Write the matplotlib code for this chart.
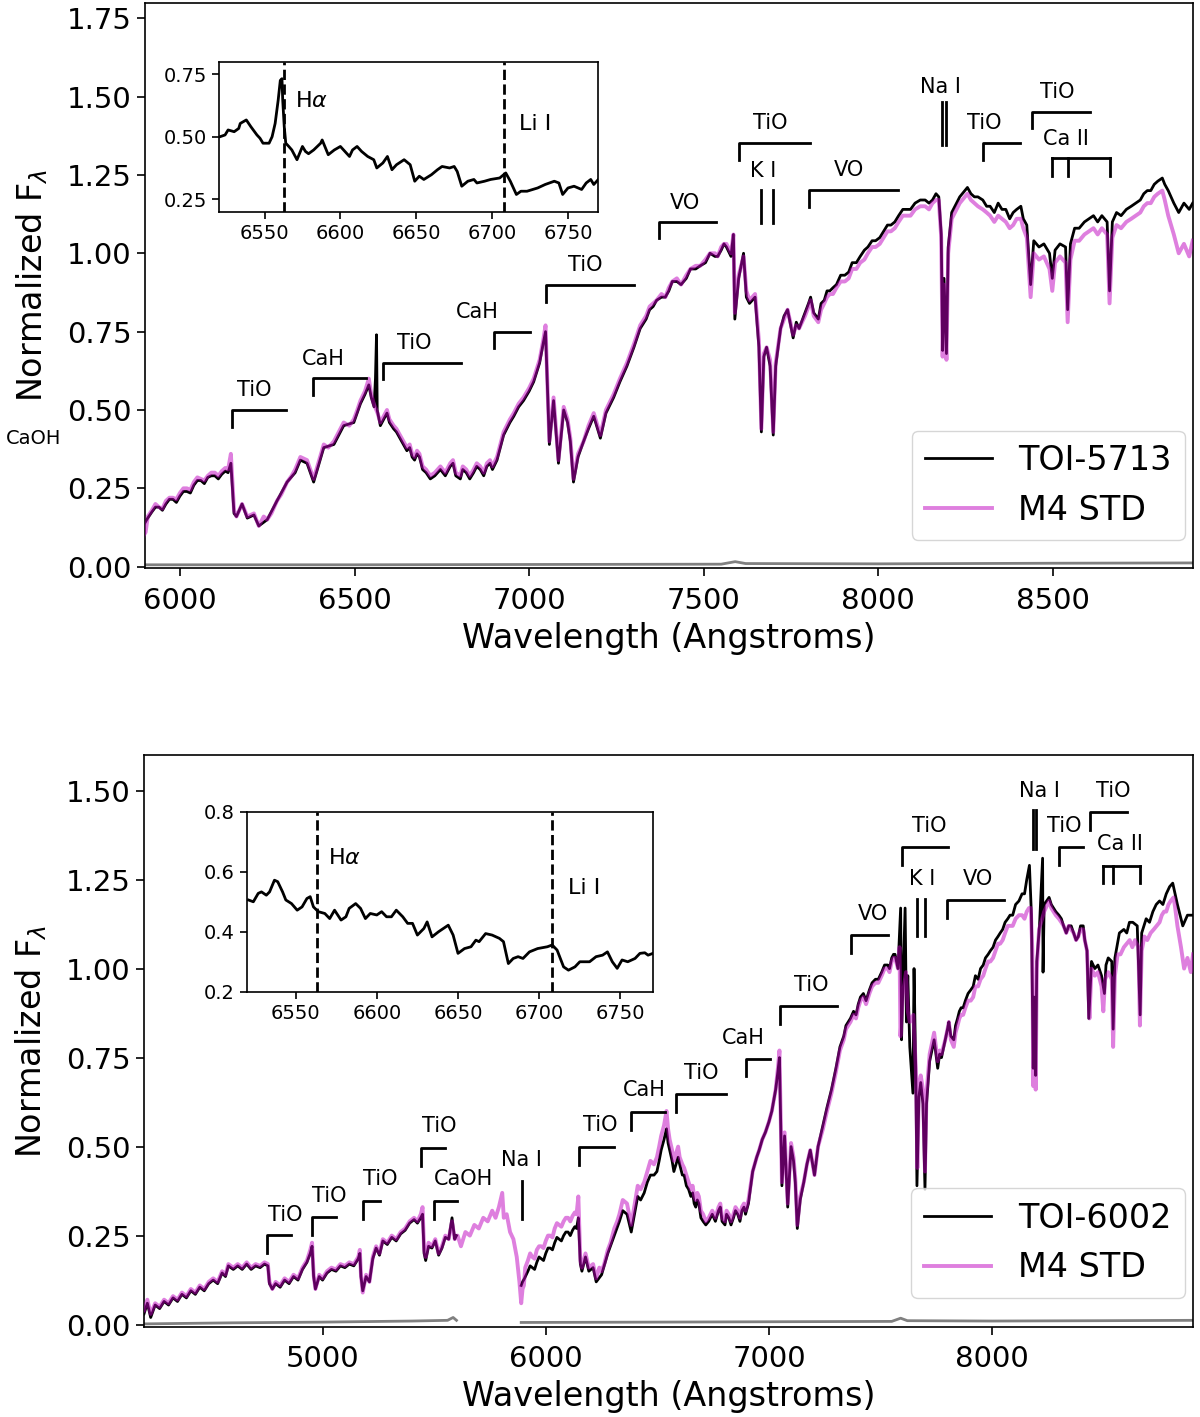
import numpy as np
import matplotlib
matplotlib.use("Agg")
import matplotlib.pyplot as plt

nan = np.nan

# ---- spectra: (wavelength [A], normalized flux) ----
m4_std = [
    (4200, 0.04), (4215, 0.07), (4230, 0.03), (4250, 0.06), (4270, 0.05), (4290, 0.07), (4310, 0.06),
    (4330, 0.08), (4350, 0.07), (4370, 0.09), (4390, 0.08), (4410, 0.10), (4430, 0.09), (4450, 0.11),
    (4470, 0.10), (4490, 0.12), (4510, 0.13), (4530, 0.12), (4550, 0.15), (4565, 0.14), (4578, 0.17),
    (4600, 0.16), (4620, 0.17), (4640, 0.16), (4660, 0.175), (4680, 0.16), (4700, 0.17), (4720, 0.165),
    (4740, 0.175), (4755, 0.17), (4762, 0.12), (4775, 0.10), (4790, 0.12), (4810, 0.11), (4830, 0.13),
    (4850, 0.12), (4870, 0.14), (4890, 0.13), (4910, 0.16), (4930, 0.18), (4945, 0.21), (4953, 0.23),
    (4960, 0.14), (4968, 0.10), (4985, 0.14), (5000, 0.13), (5020, 0.15), (5040, 0.16), (5060, 0.155),
    (5080, 0.17), (5100, 0.165), (5120, 0.175), (5140, 0.17), (5160, 0.19), (5167, 0.21), (5172, 0.14),
    (5180, 0.09), (5195, 0.14), (5210, 0.12), (5225, 0.19), (5240, 0.22), (5255, 0.20), (5270, 0.24),
    (5290, 0.23), (5310, 0.25), (5330, 0.24), (5350, 0.26), (5370, 0.27), (5390, 0.29), (5410, 0.30),
    (5425, 0.29), (5440, 0.31), (5448, 0.33), (5455, 0.21), (5462, 0.19), (5475, 0.23), (5490, 0.22),
    (5505, 0.24), (5520, 0.20), (5535, 0.22), (5550, 0.25), (5565, 0.24), (5580, 0.29), (5592, 0.24),
    (5605, 0.25), (5620, 0.22), (5640, 0.26), (5660, 0.25), (5680, 0.28), (5700, 0.27), (5720, 0.30),
    (5740, 0.29), (5760, 0.32), (5775, 0.30), (5790, 0.33), (5805, 0.37), (5812, 0.30), (5825, 0.31),
    (5840, 0.26), (5855, 0.24), (5870, 0.19), (5882, 0.12), (5890, 0.06), (5896, 0.10), (5902, 0.11),
    (5908, 0.16), (5920, 0.18), (5940, 0.19), (5960, 0.21), (5980, 0.22), (6000, 0.235), (6020, 0.25),
    (6040, 0.27), (6060, 0.28), (6080, 0.29), (6100, 0.30), (6120, 0.305), (6138, 0.31), (6146, 0.36),
    (6155, 0.18), (6162, 0.16), (6178, 0.20), (6193, 0.16), (6212, 0.17), (6226, 0.13), (6250, 0.15),
    (6278, 0.21), (6307, 0.27), (6330, 0.31), (6345, 0.35), (6364, 0.34), (6383, 0.28), (6412, 0.39),
    (6441, 0.40), (6469, 0.46), (6498, 0.47), (6517, 0.53), (6530, 0.56), (6541, 0.60), (6548, 0.55),
    (6555, 0.52), (6566, 0.49), (6574, 0.46), (6593, 0.50), (6612, 0.45), (6630, 0.42), (6650, 0.38),
    (6665, 0.36), (6679, 0.37), (6695, 0.32), (6717, 0.29), (6730, 0.30), (6746, 0.32), (6774, 0.33),
    (6790, 0.30), (6803, 0.29), (6820, 0.31), (6841, 0.31), (6860, 0.32), (6879, 0.33), (6895, 0.32),
    (6908, 0.35), (6927, 0.43), (6945, 0.47), (6956, 0.49), (6970, 0.52), (6984, 0.54), (7000, 0.57),
    (7013, 0.60), (7030, 0.66), (7040, 0.72), (7047, 0.77), (7053, 0.56), (7058, 0.40), (7070, 0.54),
    (7084, 0.34), (7099, 0.51), (7110, 0.47), (7118, 0.41), (7127, 0.28), (7140, 0.36), (7156, 0.40),
    (7170, 0.45), (7185, 0.49), (7204, 0.42), (7220, 0.50), (7242, 0.55), (7260, 0.60), (7280, 0.65),
    (7300, 0.71), (7318, 0.77), (7335, 0.80), (7355, 0.84), (7379, 0.87), (7400, 0.89), (7423, 0.92),
    (7450, 0.93), (7477, 0.96), (7505, 0.98), (7532, 1.00), (7550, 1.02), (7565, 1.03), (7578, 1.00),
    (7585, 1.06), (7589, 0.81), (7600, 0.93), (7614, 0.99), (7622, 0.88), (7631, 0.85), (7647, 0.87),
    (7658, 0.72), (7665, 0.44), (7672, 0.68), (7680, 0.70), (7690, 0.66), (7699, 0.43), (7706, 0.65),
    (7720, 0.76), (7740, 0.82), (7756, 0.74), (7773, 0.76), (7790, 0.80), (7806, 0.85), (7828, 0.78),
    (7845, 0.84), (7861, 0.87), (7880, 0.89), (7904, 0.91), (7925, 0.95), (7948, 0.97), (7970, 1.00),
    (7992, 1.02), (8015, 1.05), (8036, 1.07), (8058, 1.10), (8080, 1.12), (8105, 1.14), (8134, 1.15),
    (8155, 1.16), (8173, 1.17), (8180, 1.05), (8184, 0.67), (8188, 0.90), (8195, 0.66), (8200, 1.00),
    (8210, 1.11), (8233, 1.16), (8255, 1.19), (8275, 1.16), (8299, 1.14), (8320, 1.12), (8343, 1.12),
    (8365, 1.10), (8386, 1.09), (8408, 1.11), (8425, 1.05), (8436, 0.86), (8445, 1.00), (8460, 0.98),
    (8474, 0.99), (8490, 0.95), (8498, 0.88), (8506, 0.97), (8520, 0.99), (8536, 0.97), (8542, 0.78),
    (8550, 0.98), (8562, 1.04), (8590, 1.06), (8616, 1.08), (8640, 1.08), (8655, 1.06), (8662, 0.84),
    (8670, 1.05), (8682, 1.09), (8710, 1.10), (8737, 1.12), (8770, 1.16), (8790, 1.18), (8813, 1.20),
    (8830, 1.12), (8846, 1.06), (8860, 1.00), (8875, 1.03), (8890, 0.99), (8900, 1.04),
    # small-scale wiggles read between the points above
    (5930, 0.20), (5950, 0.185), (5970, 0.22), (5990, 0.215), (6010, 0.25), (6030, 0.245), (6050, 0.285),
    (6070, 0.275), (6090, 0.30), (6110, 0.29), (6130, 0.315), (6240, 0.16), (6262, 0.17), (6290, 0.23),
    (6320, 0.29), (6425, 0.38), (6455, 0.43), (6485, 0.45), (6508, 0.50), (6600, 0.47), (6620, 0.44),
    (6640, 0.40), (6658, 0.39), (6672, 0.35), (6686, 0.36), (6705, 0.31), (6760, 0.30), (6782, 0.34),
    (6810, 0.32), (6830, 0.29), (6850, 0.33), (6870, 0.30), (6888, 0.34), (7345, 0.83), (7365, 0.85),
    (7390, 0.86), (7410, 0.91), (7435, 0.90), (7462, 0.95), (7490, 0.96), (7518, 1.00), (7540, 0.99),
    (7558, 1.03), (7730, 0.79), (7765, 0.77), (7800, 0.83), (7815, 0.80), (7836, 0.82), (7853, 0.86),
    (7870, 0.87), (7892, 0.91), (7915, 0.92), (7937, 0.95), (7960, 0.98), (7982, 1.02), (8004, 1.03),
    (8026, 1.07), (8047, 1.08), (8070, 1.12), (8092, 1.12), (8120, 1.15), (8145, 1.14), (8165, 1.17),
    (8265, 1.17), (8285, 1.15), (8310, 1.13), (8332, 1.10), (8354, 1.11), (8376, 1.08), (8396, 1.11),
    (8415, 1.08), (8575, 1.04), (8603, 1.07), (8628, 1.06), (8695, 1.08), (8724, 1.11), (8750, 1.13),
    (8760, 1.15), (8780, 1.16), (8800, 1.19), (8820, 1.17),
]

toi5713 = [
    (5900, 0.14), (5905, 0.15), (5920, 0.175), (5940, 0.19), (5960, 0.20), (5980, 0.215), (6000, 0.225),
    (6020, 0.24), (6040, 0.26), (6060, 0.275), (6080, 0.285), (6100, 0.29), (6120, 0.295), (6138, 0.30),
    (6146, 0.33), (6155, 0.17), (6162, 0.16), (6178, 0.20), (6193, 0.155), (6212, 0.165), (6226, 0.13),
    (6250, 0.15), (6278, 0.21), (6307, 0.27), (6330, 0.30), (6345, 0.34), (6364, 0.33), (6383, 0.27),
    (6412, 0.38), (6441, 0.39), (6469, 0.45), (6498, 0.46), (6517, 0.52), (6530, 0.55), (6541, 0.58),
    (6548, 0.54), (6556, 0.51), (6560, 0.60), (6563, 0.74), (6565, 0.50), (6574, 0.45), (6593, 0.49),
    (6612, 0.44), (6630, 0.41), (6650, 0.37), (6665, 0.35), (6679, 0.36), (6695, 0.31), (6717, 0.28),
    (6730, 0.29), (6746, 0.31), (6774, 0.32), (6790, 0.29), (6803, 0.28), (6820, 0.30), (6841, 0.30),
    (6860, 0.31), (6879, 0.32), (6895, 0.31), (6908, 0.34), (6927, 0.42), (6945, 0.46), (6956, 0.48),
    (6970, 0.51), (6984, 0.53), (7000, 0.56), (7013, 0.59), (7030, 0.65), (7040, 0.71), (7047, 0.75),
    (7053, 0.55), (7058, 0.39), (7070, 0.53), (7084, 0.33), (7099, 0.50), (7110, 0.46), (7118, 0.40),
    (7127, 0.27), (7140, 0.35), (7156, 0.40), (7170, 0.44), (7185, 0.48), (7204, 0.41), (7220, 0.49),
    (7242, 0.54), (7260, 0.59), (7280, 0.64), (7300, 0.70), (7318, 0.76), (7335, 0.79), (7355, 0.83),
    (7379, 0.86), (7400, 0.88), (7423, 0.91), (7450, 0.92), (7477, 0.95), (7505, 0.97), (7532, 0.99),
    (7550, 1.01), (7565, 1.02), (7578, 0.99), (7585, 1.06), (7589, 0.79), (7600, 0.92), (7614, 1.00),
    (7622, 0.86), (7631, 0.84), (7647, 0.86), (7658, 0.70), (7665, 0.43), (7672, 0.67), (7680, 0.70),
    (7690, 0.64), (7699, 0.42), (7706, 0.64), (7720, 0.76), (7740, 0.82), (7756, 0.73), (7773, 0.76),
    (7790, 0.81), (7806, 0.86), (7828, 0.79), (7845, 0.85), (7861, 0.88), (7880, 0.90), (7904, 0.93),
    (7925, 0.97), (7948, 0.99), (7970, 1.02), (7992, 1.04), (8015, 1.07), (8036, 1.09), (8058, 1.12),
    (8080, 1.14), (8105, 1.16), (8134, 1.17), (8155, 1.17), (8173, 1.18), (8180, 1.06), (8184, 0.69),
    (8188, 0.92), (8195, 0.68), (8200, 1.02), (8210, 1.13), (8233, 1.18), (8255, 1.21), (8275, 1.18),
    (8299, 1.17), (8320, 1.15), (8343, 1.16), (8365, 1.14), (8386, 1.13), (8408, 1.15), (8425, 1.09),
    (8436, 0.90), (8445, 1.04), (8460, 1.02), (8474, 1.03), (8490, 1.00), (8498, 0.92), (8506, 1.01),
    (8520, 1.03), (8536, 1.02), (8542, 0.82), (8550, 1.03), (8562, 1.08), (8590, 1.10), (8616, 1.12),
    (8640, 1.12), (8655, 1.10), (8662, 0.88), (8670, 1.10), (8682, 1.13), (8710, 1.14), (8737, 1.16),
    (8770, 1.20), (8790, 1.22), (8813, 1.24), (8830, 1.20), (8846, 1.16), (8860, 1.13), (8875, 1.16),
    (8890, 1.14), (8900, 1.16),
    # small-scale wiggles
    (5930, 0.19), (5950, 0.18), (5970, 0.215), (5990, 0.205), (6010, 0.24), (6030, 0.235), (6050, 0.275),
    (6070, 0.265), (6090, 0.29), (6110, 0.28), (6130, 0.305), (6600, 0.46), (6620, 0.43), (6640, 0.39),
    (6658, 0.38), (6672, 0.34), (6686, 0.35), (6705, 0.30), (6760, 0.29), (6782, 0.33), (6810, 0.31),
    (6830, 0.28), (6850, 0.32), (6870, 0.29), (6888, 0.33), (7345, 0.82), (7365, 0.85), (7390, 0.86),
    (7410, 0.91), (7435, 0.90), (7462, 0.95), (7490, 0.96), (7518, 1.00), (7540, 0.99), (7558, 1.03),
    (7730, 0.80), (7765, 0.78), (7800, 0.84), (7815, 0.81), (7836, 0.84), (7853, 0.88), (7870, 0.89),
    (7892, 0.93), (7915, 0.94), (7937, 0.97), (7960, 1.01), (7982, 1.04), (8004, 1.05), (8026, 1.09),
    (8047, 1.10), (8070, 1.14), (8092, 1.14), (8120, 1.17), (8145, 1.16), (8165, 1.19), (8265, 1.19),
    (8285, 1.18), (8310, 1.15), (8332, 1.13), (8354, 1.14), (8376, 1.11), (8396, 1.14), (8415, 1.11),
    (8575, 1.08), (8603, 1.11), (8628, 1.10), (8695, 1.12), (8724, 1.15), (8750, 1.17), (8760, 1.19),
    (8780, 1.20), (8800, 1.23), (8820, 1.22),
]

toi6002 = [
    (4200, 0.03), (4215, 0.06), (4230, 0.02), (4250, 0.055), (4270, 0.045), (4290, 0.065), (4310, 0.055),
    (4330, 0.075), (4350, 0.065), (4370, 0.085), (4390, 0.075), (4410, 0.095), (4430, 0.085), (4450, 0.105),
    (4470, 0.095), (4490, 0.115), (4510, 0.125), (4530, 0.115), (4550, 0.145), (4565, 0.135), (4578, 0.165),
    (4600, 0.155), (4620, 0.165), (4640, 0.155), (4660, 0.17), (4680, 0.155), (4700, 0.165), (4720, 0.16),
    (4740, 0.17), (4755, 0.165), (4762, 0.115), (4775, 0.10), (4790, 0.115), (4810, 0.105), (4830, 0.125),
    (4850, 0.115), (4870, 0.135), (4890, 0.125), (4910, 0.155), (4930, 0.175), (4945, 0.20), (4953, 0.22),
    (4960, 0.135), (4968, 0.10), (4985, 0.135), (5000, 0.125), (5020, 0.145), (5040, 0.155), (5060, 0.15),
    (5080, 0.165), (5100, 0.16), (5120, 0.17), (5140, 0.165), (5160, 0.185), (5167, 0.20), (5172, 0.135),
    (5180, 0.095), (5195, 0.135), (5210, 0.12), (5225, 0.185), (5240, 0.215), (5255, 0.195), (5270, 0.235),
    (5290, 0.225), (5310, 0.245), (5330, 0.235), (5350, 0.255), (5370, 0.265), (5390, 0.285), (5410, 0.295),
    (5425, 0.285), (5440, 0.30), (5448, 0.31), (5455, 0.20), (5462, 0.18), (5475, 0.22), (5490, 0.215),
    (5505, 0.235), (5520, 0.195), (5535, 0.215), (5550, 0.245), (5565, 0.24), (5580, 0.30), (5592, 0.24),
    (5600, 0.25), (5601, nan), (5889, nan), (5890, 0.11), (5896, 0.12), (5905, 0.13), (5920, 0.15),
    (5940, 0.16), (5960, 0.175), (5980, 0.185), (6000, 0.20), (6020, 0.215), (6040, 0.23), (6060, 0.24),
    (6080, 0.25), (6100, 0.26), (6120, 0.265), (6138, 0.27), (6146, 0.30), (6155, 0.17), (6162, 0.15),
    (6178, 0.19), (6193, 0.15), (6212, 0.16), (6226, 0.12), (6250, 0.14), (6278, 0.20), (6307, 0.25),
    (6330, 0.29), (6345, 0.32), (6364, 0.31), (6383, 0.26), (6412, 0.36), (6441, 0.37), (6469, 0.42),
    (6498, 0.43), (6517, 0.49), (6530, 0.52), (6541, 0.55), (6548, 0.51), (6555, 0.49), (6566, 0.46),
    (6574, 0.43), (6593, 0.47), (6612, 0.42), (6630, 0.39), (6650, 0.36), (6665, 0.34), (6679, 0.35),
    (6695, 0.30), (6717, 0.28), (6730, 0.29), (6746, 0.31), (6774, 0.32), (6790, 0.29), (6803, 0.28),
    (6820, 0.30), (6841, 0.30), (6860, 0.31), (6879, 0.32), (6895, 0.31), (6908, 0.34), (6927, 0.43),
    (6945, 0.47), (6956, 0.49), (6970, 0.52), (6984, 0.54), (7000, 0.57), (7013, 0.60), (7030, 0.66),
    (7040, 0.71), (7047, 0.75), (7053, 0.55), (7058, 0.39), (7070, 0.53), (7084, 0.33), (7099, 0.50),
    (7110, 0.46), (7118, 0.40), (7127, 0.27), (7140, 0.35), (7156, 0.40), (7170, 0.45), (7185, 0.49),
    (7204, 0.42), (7220, 0.50), (7242, 0.56), (7260, 0.61), (7280, 0.66), (7300, 0.72), (7318, 0.78),
    (7335, 0.81), (7355, 0.85), (7379, 0.88), (7400, 0.90), (7423, 0.93), (7450, 0.94), (7477, 0.97),
    (7505, 0.99), (7532, 1.01), (7550, 1.03), (7565, 1.04), (7578, 1.00), (7590, 1.17), (7594, 0.80),
    (7600, 0.95), (7610, 1.17), (7616, 0.85), (7622, 0.98), (7631, 0.78), (7645, 0.65), (7650, 1.00),
    (7658, 0.70), (7663, 0.39), (7672, 0.64), (7680, 0.68), (7690, 0.62), (7699, 0.38), (7706, 0.62),
    (7720, 0.74), (7740, 0.80), (7756, 0.72), (7773, 0.75), (7790, 0.80), (7806, 0.85), (7828, 0.80),
    (7845, 0.86), (7861, 0.89), (7880, 0.91), (7904, 0.94), (7925, 0.98), (7948, 1.00), (7970, 1.03),
    (7992, 1.05), (8015, 1.08), (8036, 1.10), (8058, 1.13), (8080, 1.15), (8105, 1.18), (8134, 1.21),
    (8155, 1.25), (8167, 1.29), (8176, 1.15), (8184, 0.72), (8188, 0.92), (8195, 0.70), (8200, 1.02),
    (8212, 1.12), (8226, 1.31), (8228, 0.99), (8233, 1.18), (8255, 1.20), (8275, 1.17), (8299, 1.15),
    (8320, 1.12), (8343, 1.12), (8365, 1.10), (8386, 1.09), (8408, 1.12), (8425, 1.05), (8433, 0.86),
    (8445, 1.02), (8460, 1.00), (8474, 1.01), (8490, 0.98), (8503, 0.93), (8510, 1.01), (8520, 1.03),
    (8536, 1.02), (8542, 0.83), (8550, 1.03), (8570, 1.10), (8590, 1.11), (8630, 1.13), (8650, 1.12),
    (8663, 0.87), (8670, 1.10), (8690, 1.14), (8720, 1.16), (8750, 1.19), (8780, 1.21), (8809, 1.24),
    (8830, 1.18), (8854, 1.12), (8875, 1.15), (8900, 1.15),
    # small-scale wiggles
    (5930, 0.165), (5950, 0.155), (5970, 0.19), (5990, 0.18), (6010, 0.215), (6030, 0.21), (6050, 0.245),
    (6070, 0.235), (6090, 0.26), (6110, 0.25), (6130, 0.275), (6425, 0.35), (6455, 0.40), (6485, 0.42),
    (6508, 0.46), (6600, 0.45), (6620, 0.42), (6640, 0.38), (6658, 0.37), (6672, 0.33), (6686, 0.34),
    (6705, 0.29), (6760, 0.29), (6782, 0.33), (6810, 0.31), (6830, 0.28), (6850, 0.32), (6870, 0.29),
    (6888, 0.33), (7345, 0.84), (7365, 0.86), (7390, 0.87), (7410, 0.92), (7435, 0.91), (7462, 0.96),
    (7490, 0.97), (7518, 1.01), (7540, 1.00), (7558, 1.04), (7730, 0.77), (7765, 0.76), (7800, 0.83),
    (7815, 0.81), (7836, 0.84), (7853, 0.88), (7870, 0.89), (7892, 0.93), (7915, 0.95), (7937, 0.97),
    (7960, 1.01), (7982, 1.04), (8004, 1.06), (8026, 1.09), (8047, 1.11), (8070, 1.14), (8092, 1.15),
    (8120, 1.19), (8145, 1.21), (8265, 1.18), (8285, 1.16), (8310, 1.14), (8332, 1.10), (8354, 1.12),
    (8376, 1.08), (8396, 1.12), (8415, 1.08), (8603, 1.10), (8615, 1.13), (8705, 1.13), (8735, 1.18),
    (8765, 1.18), (8795, 1.23),
]

err_top = [(5900, 0.006), (6500, 0.006), (7000, 0.007), (7550, 0.008), (7590, 0.016), (7620, 0.010),
           (8000, 0.009), (8500, 0.011), (8900, 0.012)]
err_bot = [(4200, 0.002), (4600, 0.005), (5000, 0.007), (5400, 0.010), (5560, 0.012), (5585, 0.020),
           (5600, 0.012), (5601, nan), (5889, nan), (5890, 0.006), (6500, 0.007), (7000, 0.008),
           (7550, 0.009), (7590, 0.018), (7620, 0.011), (8000, 0.010), (8500, 0.011), (8900, 0.012)]

# ---- inset spectra around H-alpha / Li I ----
inset_5713 = [
    (6520.7, 0.501), (6524, 0.508), (6526, 0.528), (6530, 0.521), (6533, 0.534), (6534, 0.554), (6536, 0.561),
    (6538, 0.568), (6541, 0.541), (6545, 0.508), (6547, 0.495), (6549, 0.475), (6553, 0.475), (6555, 0.501),
    (6557, 0.554), (6559, 0.647), (6560.4, 0.726), (6561.5, 0.733), (6562, 0.647), (6563, 0.541),
    (6564, 0.475), (6566, 0.462), (6568, 0.448), (6571.4, 0.409), (6575, 0.462), (6577, 0.442), (6579, 0.433),
    (6582.4, 0.448), (6587, 0.475), (6588, 0.488), (6592, 0.429), (6596, 0.448), (6600, 0.462), (6603, 0.442),
    (6606, 0.422), (6608, 0.448), (6611, 0.462), (6614, 0.442), (6618, 0.422), (6622, 0.409), (6624, 0.376),
    (6628, 0.396), (6631, 0.422), (6634, 0.369), (6637, 0.389), (6642, 0.409), (6646, 0.389), (6649, 0.323),
    (6652, 0.343), (6655, 0.330), (6660, 0.349), (6664, 0.369), (6667, 0.382), (6672, 0.376), (6675, 0.382),
    (6677, 0.362), (6680, 0.303), (6684, 0.323), (6688, 0.330), (6690, 0.316), (6695, 0.323), (6699, 0.330),
    (6705, 0.336), (6709, 0.356), (6712, 0.323), (6716, 0.270), (6719, 0.283), (6723, 0.283), (6730, 0.296),
    (6735, 0.310), (6741, 0.323), (6744, 0.316), (6746.5, 0.270), (6750, 0.296), (6754, 0.303), (6759, 0.290),
    (6762, 0.316), (6765, 0.330), (6767, 0.310), (6770, 0.330),
]

inset_6002 = [
    (6521, 0.506), (6524, 0.500), (6527, 0.528), (6529, 0.533), (6532, 0.522), (6534, 0.533), (6537, 0.572),
    (6539, 0.567), (6542, 0.533), (6544, 0.506), (6547.5, 0.494), (6551, 0.472), (6554, 0.483), (6557, 0.511),
    (6559, 0.517), (6561, 0.483), (6564, 0.467), (6568, 0.461), (6571, 0.444), (6574, 0.472), (6578, 0.439),
    (6581, 0.450), (6583, 0.478), (6587, 0.494), (6590, 0.478), (6593, 0.444), (6596, 0.461), (6600, 0.456),
    (6603, 0.467), (6606, 0.450), (6609, 0.450), (6612, 0.472), (6616, 0.450), (6619, 0.428), (6622, 0.428),
    (6625, 0.389), (6629, 0.411), (6631, 0.433), (6634, 0.383), (6638, 0.400), (6641, 0.411), (6644, 0.422),
    (6647, 0.389), (6650, 0.328), (6654, 0.344), (6658, 0.350), (6661, 0.372), (6663, 0.367), (6667, 0.394),
    (6671, 0.389), (6675.5, 0.378), (6678, 0.367), (6681, 0.294), (6684, 0.311), (6687, 0.317), (6690, 0.311),
    (6694, 0.333), (6699, 0.344), (6705, 0.350), (6708, 0.356), (6711, 0.339), (6715, 0.283), (6718, 0.272),
    (6722, 0.283), (6725, 0.300), (6731, 0.300), (6735, 0.317), (6739, 0.322), (6742, 0.333), (6745, 0.300),
    (6748, 0.278), (6751, 0.306), (6754.5, 0.300), (6759, 0.311), (6762, 0.328), (6765, 0.330), (6767, 0.322),
    (6770, 0.328),
]

halpha_wave = 6563
li_wave = 6708

# ---- molecular band brackets: (start, end, height, label, label x, label y) ----
top_bands = [
    (6150, 6304, 0.500, 'TiO', 6212, 0.564),
    (6381, 6534, 0.601, 'CaH', 6412, 0.662),
    (6581, 6805, 0.651, 'TiO', 6670, 0.713),
    (6900, 7003, 0.750, 'CaH', 6851, 0.812),
    (7049, 7301, 0.899, 'TiO', 7161, 0.963),
    (7371, 7534, 1.101, 'VO', 7445, 1.162),
    (7601, 7804, 1.351, 'TiO', 7691, 1.415),
    (7802, 8055, 1.202, 'VO', 7916, 1.266),
    (8301, 8405, 1.351, 'TiO', 8302, 1.415),
    (8441, 8605, 1.452, 'TiO', 8512, 1.514),
]
bot_bands = [
    (4752, 4858, 0.251, 'TiO', 4831, 0.309),
    (4951, 5058, 0.301, 'TiO', 5028, 0.360),
    (5179, 5257, 0.348, 'TiO', 5257, 0.410),
    (5440, 5548, 0.496, 'TiO', 5521, 0.559),
    (5500, 5604, 0.348, 'CaOH', 5633, 0.410),
    (6149, 6304, 0.498, 'TiO', 6242, 0.560),
    (6384, 6536, 0.597, 'CaH', 6443, 0.660),
    (6582, 6806, 0.648, 'TiO', 6697, 0.707),
    (6899, 7003, 0.747, 'CaH', 6886, 0.805),
    (7048, 7305, 0.894, 'TiO', 7190, 0.955),
    (7369, 7533, 1.094, 'VO', 7466, 1.152),
    (7597, 7802, 1.341, 'TiO', 7720, 1.400),
    (7799, 8051, 1.192, 'VO', 7936, 1.253),
    (8299, 8406, 1.341, 'TiO', 8324, 1.400),
    (8439, 8605, 1.440, 'TiO', 8541, 1.498),
]

# ---- atomic lines: (wavelengths, y bottom, y top, label, label x, label y) ----
top_lines = [
    ((7665, 7699), 1.098, 1.202, 'K I', 7669, 1.263),
    ((8183, 8195), 1.346, 1.482, 'Na I', 8178, 1.530),
]
bot_lines = [
    ((5893,), 0.297, 0.403, 'Na I', 5891, 0.461),
    ((7665, 7699), 1.091, 1.196, 'K I', 7687, 1.253),
    ((8183, 8195), 1.336, 1.445, 'Na I', 8212, 1.498),
]
ca2_waves = [8498, 8542, 8662]
ca2_top = (1.303, 1.247, 8537, 1.364)
ca2_bot = (1.289, 1.239, 8573, 1.351)


def xy(pairs):
    a = np.array(pairs, dtype=float)
    a = a[np.argsort(a[:, 0], kind='stable')]
    return a[:, 0], a[:, 1]


def draw_panel(ax, star, star_name, err, bands, lines, ca2, drop, xlim, ylim, legend_anchor):
    ew, ef = xy(err)
    ax.plot(ew, ef, color='gray', lw=2, zorder=1)
    sw, sf = xy(star)
    ax.plot(sw, sf, color='black', lw=2, label=star_name, zorder=2)
    mw, mf = xy(m4_std)
    ax.plot(mw, mf, color='m', lw=2.8, alpha=0.5, label='M4 STD', zorder=3)

    for x1, x2, y, txt, tx, ty in bands:
        ax.plot([x1, x1, x2], [y - drop, y, y], color='black', lw=2, zorder=4)
        ax.text(tx, ty, txt, fontsize=15, ha='center', va='center')
    for waves, y0, y1, txt, tx, ty in lines:
        for w in waves:
            ax.plot([w, w], [y0, y1], color='black', lw=2, zorder=4)
        ax.text(tx, ty, txt, fontsize=15, ha='center', va='center')
    yc, yb, tx, ty = ca2
    ax.plot([ca2_waves[0], ca2_waves[-1]], [yc, yc], color='black', lw=2, zorder=4)
    for w in ca2_waves:
        ax.plot([w, w], [yb, yc], color='black', lw=2, zorder=4)
    ax.text(tx, ty, 'Ca II', fontsize=15, ha='center', va='center')

    ax.set_xlim(*xlim)
    ax.set_ylim(*ylim)
    ax.set_xlabel('Wavelength (Angstroms)', fontsize=24, labelpad=5)
    ax.set_ylabel(r'Normalized F$_\lambda$', fontsize=24, labelpad=12)
    ax.tick_params(labelsize=21, length=5.5, width=1.2)
    ax.tick_params(axis='x', pad=8)
    ax.tick_params(axis='y', pad=4)
    for s in ax.spines.values():
        s.set_linewidth(1.2)
    ax.legend(loc='lower right', bbox_to_anchor=legend_anchor, borderaxespad=0, fontsize=24)


def draw_inset(ax, pairs, yticks, ytlabels, ha_y, li_y):
    w, f = xy(pairs)
    ax.plot(w, f, color='black', lw=2)
    ax.axvline(halpha_wave, color='black', ls='--', lw=2)
    ax.axvline(li_wave, color='black', ls='--', lw=2)
    ax.text(6570, ha_y, r'H$\alpha$', fontsize=16, ha='left', va='center')
    ax.text(6718, li_y, 'Li I', fontsize=16, ha='left', va='center')
    ax.set_xlim(6520, 6770)
    ax.set_ylim(0.2, 0.8)
    ax.set_xticks([6550, 6600, 6650, 6700, 6750])
    ax.set_yticks(yticks)
    ax.set_yticklabels(ytlabels)
    ax.tick_params(labelsize=14, length=5, width=1.2)
    for s in ax.spines.values():
        s.set_linewidth(1.2)


fig = plt.figure(figsize=(12, 14.17), dpi=100)

ax1 = fig.add_axes([0.1208, 0.5992, 0.8731, 0.3990])
draw_panel(ax1, toi5713, 'TOI-5713', err_top, top_bands, top_lines, ca2_top, 0.053,
           (5900, 8900), (-0.004, 1.8), (0.9926, 0.0496))
ax1.set_yticks([0.0, 0.25, 0.5, 0.75, 1.0, 1.25, 1.5, 1.75])
ax1.set_xticks([6000, 6500, 7000, 7500, 8000, 8500])
ax1.text(5582, 0.41, 'CaOH', fontsize=14, ha='center', va='center', clip_on=False)

ax2 = fig.add_axes([0.12, 0.0637, 0.8742, 0.4035])
draw_panel(ax2, toi6002, 'TOI-6002', err_bot, bot_bands, bot_lines, ca2_bot, 0.05,
           (4200, 8900), (-0.006, 1.6), (0.992, 0.0507))
ax2.set_yticks([0.0, 0.25, 0.5, 0.75, 1.0, 1.25, 1.5])
ax2.set_xticks([5000, 6000, 7000, 8000])

ins1 = fig.add_axes([0.1825, 0.8504, 0.3161, 0.1059])
draw_inset(ins1, inset_5713, [0.25, 0.5, 0.75], ['0.25', '0.50', '0.75'], 0.645, 0.55)

ins2 = fig.add_axes([0.2057, 0.3001, 0.3384, 0.1270])
draw_inset(ins2, inset_6002, [0.2, 0.4, 0.6, 0.8], ['0.2', '0.4', '0.6', '0.8'], 0.645, 0.545)

fig.savefig('out.png', dpi=100)
